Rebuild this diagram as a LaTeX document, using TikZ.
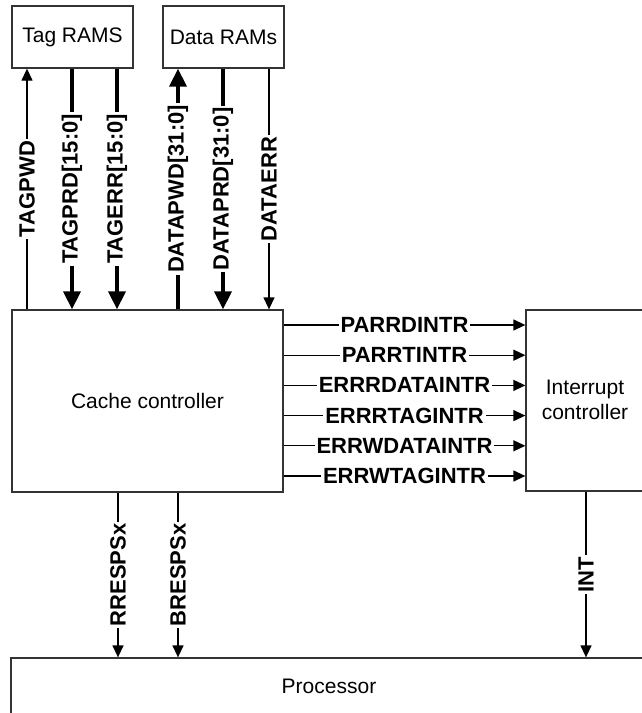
\documentclass[tikz,border=0pt]{standalone}
\usepackage{fontspec}
\setmainfont{Liberation Sans}
\usetikzlibrary{arrows.meta}
\tikzset{
  blk/.style={draw=black!80, line width=1.3pt, inner sep=0pt, align=center,
              font=\fontsize{21}{25}\selectfont},
  sig/.style={line width=1.3pt, -{Triangle[length=12pt,width=11pt]}},
  bus/.style={line width=3.6pt, -{Triangle[length=18pt,width=17pt]}},
  lbl/.style={fill=white, inner sep=2pt, font=\fontsize{22}{26}\selectfont\bfseries},
  vlbl/.style={lbl, rotate=90}
}
\begin{document}
\begin{tikzpicture}[x=1pt,y=-1pt]
  \useasboundingbox (0,0) rectangle (642,713);
  \clip (0,0) rectangle (642,713);

  % blocks
  \node[blk, minimum width=121pt, minimum height=62pt] (tag) at (72.5,37) {Tag RAMS};
  \node[blk, minimum width=121pt, minimum height=62pt] (data) at (223.5,37) {Data RAMs};
  \node[blk, minimum width=271pt, minimum height=182pt] (cache) at (147.5,401) {Cache controller};
  \node[blk, minimum width=140pt, minimum height=181pt] (intc) at (596,400.5) {};
  \node[font=\fontsize{21}{25.5}\selectfont, align=center] (intct) at (585,400) {Interrupt\\controller};
  \node[blk, minimum width=660pt, minimum height=80pt] (proc) at (341,698) {};
  \node[font=\fontsize{21}{25}\selectfont] (proct) at (329,686) {Processor};

  % x positions of the vertical signals
  \coordinate (xa) at (27,0);
  \coordinate (xb) at (72,0);
  \coordinate (xc) at (117,0);
  \coordinate (xd) at (178,0);
  \coordinate (xe) at (223,0);
  \coordinate (xf) at (269,0);
  \coordinate (xg) at (118,0);
  \coordinate (xh) at (178,0);
  \coordinate (xi) at (586,0);

  % RAM interface
  \draw[sig] (xa |- cache.north) -- node[vlbl]{TAGPWD} (xa |- tag.south);
  \draw[bus] (xb |- tag.south) -- node[vlbl]{TAGPRD[15:0]} (xb |- cache.north);
  \draw[bus] (xc |- tag.south) -- node[vlbl]{TAGERR[15:0]} (xc |- cache.north);
  \draw[bus] (xd |- cache.north) -- node[vlbl]{DATAPWD[31:0]} (xd |- data.south);
  \draw[bus] (xe |- data.south) -- node[vlbl]{DATAPRD[31:0]} (xe |- cache.north);
  \draw[sig] (xf |- data.south) -- node[vlbl]{DATAERR} (xf |- cache.north);

  % interrupt lines
  \foreach \n [count=\i from 0] in {PARRDINTR,PARRTINTR,ERRRDATAINTR,ERRRTAGINTR,ERRWDATAINTR,ERRWTAGINTR}{
    \coordinate (y\i) at (0,{325+30.2*\i});
    \draw[sig] (cache.east |- y\i) -- node[lbl]{\n} (intc.west |- y\i);
  }

  % processor interface
  \draw[sig] (xg |- cache.south) -- node[vlbl]{RRESPSx} (xg |- proc.north);
  \draw[sig] (xh |- cache.south) -- node[vlbl]{BRESPSx} (xh |- proc.north);
  \draw[sig] (xi |- intc.south) -- node[vlbl]{INT} (xi |- proc.north);
\end{tikzpicture}
\end{document}
